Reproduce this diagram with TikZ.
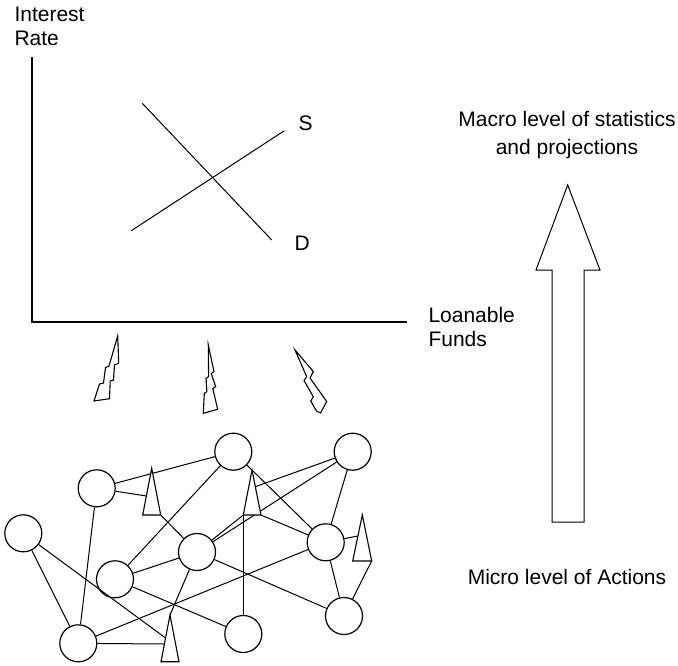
\documentclass[tikz,border=0pt]{standalone}
\usepackage{fontspec}
\setmainfont{Liberation Sans}
\begin{document}
\begin{tikzpicture}[x=1pt,y=-1pt,line width=1pt,
  lbl/.style={inner sep=0pt,font=\fontsize{21}{25}\selectfont},
  agent/.style={circle,draw,line width=1.2pt,minimum size=37pt,inner sep=0pt},
  spike/.style={draw,fill=white,line width=1.1pt,line join=miter},
  bolt/.style={draw,line width=1.1pt,line join=miter},
  edge/.style={line width=1pt}]
\useasboundingbox (0,0) rectangle (678,665);
% ---- graph ----
\coordinate (O) at (32,322);
\coordinate (ytop) at (32,57);
\coordinate (xend) at (407,322);
\draw[line width=1.3pt] (ytop) -- (O) -- (xend);
\coordinate (d1) at (142.3,103.3);
\coordinate (d2) at (271.7,240);
\coordinate (s1) at (131.3,230.7);
\coordinate (s2) at (284.3,130.7);
\draw (d1) -- (d2);
\draw (s1) -- (s2);
\node[lbl,anchor=base west] (ir1) at (14,21) {Interest};
\node[lbl,anchor=base west] (ir2) at (14,45) {Rate};
\node[lbl,anchor=base west] (lS) at (298,130) {S};
\node[lbl,anchor=base west] (lD) at (294,250) {D};
\node[lbl,anchor=base west] (lf1) at (428,322) {Loanable};
\node[lbl,anchor=base west] (lf2) at (428,346) {Funds};
% ---- big arrow ----
\draw[line width=1pt,line join=miter] (552,522) -- (552,270) -- (536,270) -- (567.7,185) -- (600,270) -- (584,270) -- (584,522) -- cycle;
\node[lbl,anchor=base] (mac1) at (567,126) {Macro level of statistics};
\node[lbl,anchor=base] (mac2) at (567,154) {and projections};
\node[lbl,anchor=base] (mic) at (567,584) {Micro level of Actions};
% ---- bolts ----
\draw[bolt] (117.7,336) -- (118.7,363.3) -- (114.5,364.8) -- (113.5,380) -- (110.2,381) -- (109.5,398.7) -- (94,401) -- (99.5,384) -- (103.5,383) -- (105.5,367.5) -- (109,366) -- cycle;
\draw[bolt] (208.3,345) -- (214,371.7) -- (211.2,373.5) -- (215.7,386.7) -- (212.8,388.5) -- (217.7,409.3) -- (203.3,413.3) -- (204.3,393.3) -- (206.9,391.7) -- (206,378.3) -- (208.6,376.7) -- cycle;
\draw[bolt] (295,350) -- (313.3,371.5) -- (310,378) -- (326.7,401.5) -- (320.5,413) -- (316.5,411) -- (310.7,401) -- (313.3,396.7) -- (304,380.5) -- (306.7,376.7) -- cycle;
% ---- network ----
\node[agent] (c1) at (96.7,488.3) {};
\node[agent] (c2) at (23.3,533.3) {};
\node[agent] (c3) at (115,579.3) {};
\node[agent] (c4) at (78.3,643.3) {};
\node[agent] (c5) at (197,552) {};
\node[agent] (c6) at (233.3,451.7) {};
\node[agent] (c7) at (352.7,451.7) {};
\node[agent] (c8) at (325.7,542.3) {};
\node[agent] (c9) at (344,616) {};
\node[agent] (c10) at (243.3,634) {};
% triangle corners
\coordinate (a1) at (151.7,468.3); \coordinate (bl1) at (142.7,515); \coordinate (br1) at (160.7,515);
\coordinate (a2) at (170,615);     \coordinate (bl2) at (161,661.7); \coordinate (br2) at (179,661.7);
\coordinate (a3) at (252,470);     \coordinate (bl3) at (243.3,515); \coordinate (br3) at (261,515);
\coordinate (a4) at (362.3,515);   \coordinate (bl4) at (352.7,561); \coordinate (br4) at (371.7,561);
% points on triangle sides
\coordinate (t1l) at (146.4,496);
\coordinate (t2l) at (165.6,638);
\coordinate (t2m) at (164.4,644);
\coordinate (t3r) at (255.3,486.7);
\coordinate (t4l) at (357.8,536);
% edges
\draw[edge] (c1) -- (c6);
\draw[edge] (c1) -- (t1l);
\draw[edge] (br1) -- (c5);
\draw[edge] (c1) -- (c4);
\draw[edge] (c2) -- (c4);
\draw[edge] (c2) -- (t2l);
\draw[edge] (c3) -- (c6);
\draw[edge] (c3) -- (c5);
\draw[edge] (c3) -- (c10);
\draw[edge] (c4) -- (c8);
\draw[edge] (c5) -- (a2);
\draw[edge] (c4) -- (t2m);
\draw[edge] (c6) -- (c8);
\draw[edge] (c7) -- (t3r);
\draw[edge] (c7) -- (c5);
\draw[edge] (c5) -- (bl3);
\draw[edge] (br3) -- (c8);
\draw[edge] (bl3) -- (c10);
\draw[edge] (c5) -- (c9);
\draw[edge] (c7) -- (c8);
\draw[edge] (c8) -- (t4l);
\draw[edge] (c8) -- (c9);
\draw[edge] (br4) -- (c9);
% triangles
\draw[spike] (a1) -- (br1) -- (bl1) -- cycle;
\draw[spike] (a2) -- (br2) -- (bl2) -- cycle;
\draw[spike] (a3) -- (br3) -- (bl3) -- cycle;
\draw[spike] (a4) -- (br4) -- (bl4) -- cycle;
\end{tikzpicture}
\end{document}
